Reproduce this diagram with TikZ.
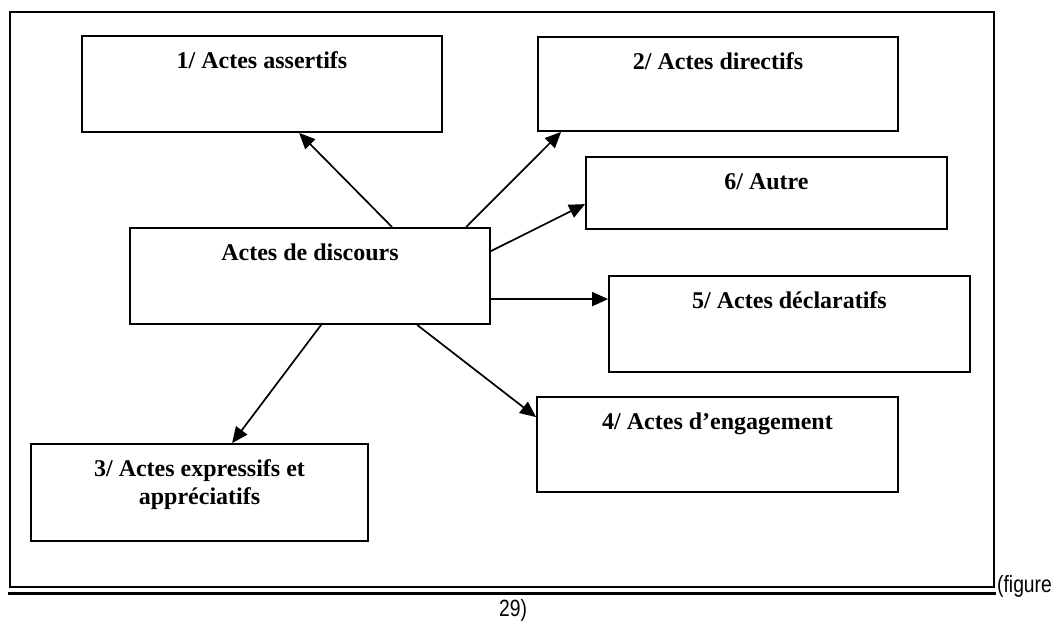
\documentclass[tikz,border=0pt]{standalone}
\usepackage{fontspec}
\setmainfont{Liberation Serif}
\newfontfamily\capfont[FakeStretch=0.82]{Liberation Sans}
\usetikzlibrary{arrows.meta,calc}

\begin{document}
\begin{tikzpicture}[x=1pt,y=-1pt,
  box/.style={draw=black, line width=1.8pt, rectangle, inner sep=0pt},
  lbl/.style={inner sep=0pt, anchor=base, font=\fontsize{24pt}{28pt}\selectfont\bfseries},
  captext/.style={inner sep=0pt, font=\capfont\fontsize{23.5pt}{27pt}\selectfont},
  link/.style={line width=1.7pt, -{Triangle[length=16pt,width=14pt]}}
  ]
\useasboundingbox (0,0) rectangle (1053,621);

% outer frame and the rule beneath it
\draw[line width=1.6pt] (10,12) rectangle (994,587);
\draw[line width=3pt] (8,593.5) -- (996,593.5);

% boxes
\node[box, minimum width=360pt, minimum height=96pt] (b1) at (262,84) {};
\node[box, minimum width=360pt, minimum height=94pt] (b2) at (718,84) {};
\node[box, minimum width=360pt, minimum height=96pt] (main) at (310,276) {};
\node[box, minimum width=361pt, minimum height=72pt] (b6) at (766.5,193) {};
\node[box, minimum width=361pt, minimum height=96pt] (b5) at (789.5,324) {};
\node[box, minimum width=337pt, minimum height=97pt] (b3) at (199.5,492.5) {};
\node[box, minimum width=361pt, minimum height=95pt] (b4) at (717.5,444.5) {};

% box titles
\node[lbl] (t1) at ([yshift=-33.5pt]b1.north) {1/ Actes assertifs};
\node[lbl] (t2) at ([yshift=-33.5pt]b2.north) {2/ Actes directifs};
\node[lbl] (tm) at ([yshift=-33.5pt]main.north) {Actes de discours};
\node[lbl] (t6) at ([yshift=-33.5pt]b6.north) {6/ Autre};
\node[lbl] (t5) at ([yshift=-33.5pt]b5.north) {5/ Actes déclaratifs};
\node[lbl] (t3a) at ([yshift=-33.5pt]b3.north) {3/ Actes expressifs et};
\node[lbl] (t3b) at ([yshift=-61.5pt]b3.north) {appréciatifs};
\node[lbl] (t4) at ([yshift=-33.5pt]b4.north) {4/ Actes d’engagement};

% connectors
\draw[link] ([xshift=263pt]main.north west) -- ([xshift=218pt]b1.south west);
\draw[link] ([xshift=337pt]main.north west) -- ([xshift=24pt]b2.south west);
\draw[link] ([yshift=-24pt]main.north east) -- ([yshift=-48pt]b6.north west);
\draw[link] ([yshift=-72pt]main.north east) -- ([yshift=-24pt]b5.north west);
\draw[link] ([xshift=192pt]main.south west) -- ([xshift=202pt]b3.north west);
\draw[link] ([xshift=288pt]main.south west) -- ([yshift=-21pt]b4.north west);

% caption
\node[captext, anchor=base west] (fig) at (997,592) {(figure};
\node[captext, anchor=base] (num) at (513,616) {29)};
\end{tikzpicture}
\end{document}
